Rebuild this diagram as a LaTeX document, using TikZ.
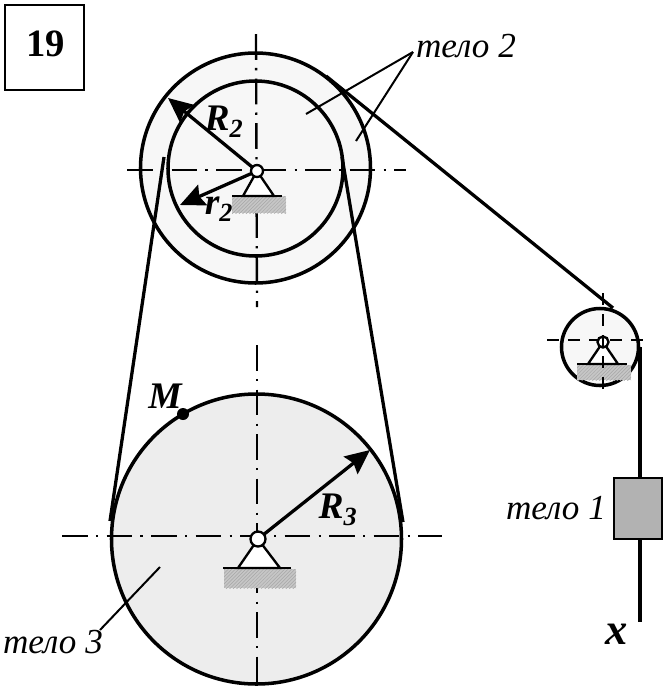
\documentclass[tikz,border=0pt]{standalone}
\usepackage{fontspec}
\setmainfont{Liberation Serif}
\usetikzlibrary{arrows.meta,patterns}
\tikzset{
	wheel/.style={draw, line width=3pt},
	rope/.style={draw, line width=2.8pt},
	axisline/.style={line width=2pt, dash pattern=on 22pt off 7pt on 2pt off 7pt},
	axisdash/.style={line width=2pt, dash pattern=on 10pt off 8pt},
	leader/.style={line width=1.7pt},
	radius arrow/.style={line width=2.8pt, -{Stealth[length=21pt,width=19pt,inset=3pt]}},
	ground/.style={preaction={fill=gray!45}, pattern=north east lines, pattern color=gray!70},
	support/.style={draw, fill=white, line width=2pt},
	name label/.style={font=\fontsize{30}{30}\selectfont\itshape, inner sep=0pt},
	sym label/.style={font=\fontsize{32}{32}\selectfont\bfseries\itshape, inner sep=0pt}
}
\begin{document}
\begin{tikzpicture}[x=0.03cm, y=-0.03cm]
	\useasboundingbox (0,0) rectangle (669,692);

	\coordinate (hub2) at (257,171);
	\coordinate (hub3) at (258,539);
	\coordinate (hub1) at (603,342);

	% pulleys
	\draw [wheel, fill=black!3] (255.5,168) circle (115);
	\draw [wheel] (255.5,168.5) circle (87.5);
	\draw [wheel, fill=black!7] (256.5,539) circle (145);
	\draw [wheel, fill=black!3] (600,347) circle (38.5);

	% belts and rope
	\draw [rope] (164,157) -- (110,521);
	\draw [rope] (342,157) -- (403,522);
	\draw [rope] (326,76) -- (613,308);
	\draw [rope] (640,347) -- (640,478);
	\draw [rope] (640,539) -- (640,622);

	% center lines
	\draw [axisline] (127,170) -- (406,170);
	\draw [axisline] (256,34) -- (257,307);
	\draw [axisline] (62,536) -- (442,536);
	\draw [axisline] (257,345) -- (257,685);
	\draw [axisdash] (547,340) -- (648,340);

	% supports
	\fill [ground] (232,196) rectangle (286,213);
	\draw [support] (hub2) -- (243,196) -- (274,196) -- cycle;
	\draw [line width=2.2pt] (232,196) -- (282,196);
	\fill [ground] (224,569) rectangle (296,588);
	\draw [support] (hub3) -- (238,568) -- (280,568) -- cycle;
	\draw [line width=2.4pt] (223,568) -- (291,568);
	\fill [ground] (577,365) rectangle (631,380);
	\draw [support] (hub1) -- (588,364) -- (618,364) -- cycle;
	\draw [line width=2pt] (577,364) -- (627,364);
	\draw [axisdash] (603,293) -- (603,392);

	% radii
	\draw [radius arrow] (hub2) -- (168,98);
	\draw [radius arrow] (hub2) -- (180,205);
	\draw [radius arrow] (hub3) -- (370,450);

	\draw [support] (hub2) circle (6);
	\draw [support] (hub3) circle (7.5);
	\draw [support] (hub1) circle (5.5);
	\draw [line width=1.6pt] (603,337) -- (603,347);

	% body 1
	\draw [draw, fill=black!30, line width=1.8pt] (614,478) rectangle (662,539);

	% point M
	\fill (183,414) circle (6);

	% leaders
	\coordinate (lead2) at (413,52);
	\draw [leader] (lead2) -- (306,114);
	\draw [leader] (lead2) -- (356,141);
	\draw [leader] (100,630) -- (160,567);

	% title box
	\draw [line width=1.8pt] (5,5) rectangle (84,90);
	\node [font=\fontsize{33}{33}\selectfont\bfseries] (title) at (46,44) {19};

	% labels
	\node [name label] (body2) at (466,46) {тело 2};
	\node [name label] (body1) at (556,508) {тело 1};
	\node [name label] (body3) at (53,642) {тело 3};
	\node [sym label] (R2) at (224,122) {R\textsubscript{2}};
	\node [sym label] (r2) at (219,209) {r\textsubscript{2}};
	\node [sym label] (R3) at (338,510) {R\textsubscript{3}};
	\node [sym label] (M) at (165,396) {M};
	\node [sym label, font=\fontsize{38}{38}\selectfont\bfseries\itshape] (x) at (617,634) {x};
\end{tikzpicture}
\end{document}
